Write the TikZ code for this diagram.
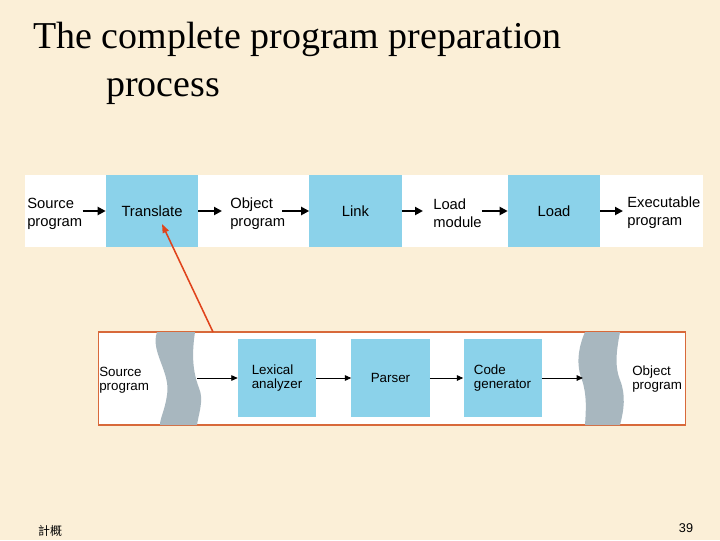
\documentclass[tikz,border=0pt]{standalone}
\usepackage{fontspec}
\setmainfont{Liberation Serif}
\setsansfont{Liberation Sans}
\newfontfamily\cjkfont{Noto Sans CJK TC}
\usepackage{xcolor}
\usepackage{tikz}
\usetikzlibrary{positioning, arrows.meta}

\definecolor{parchment}{HTML}{FBEFD7}
\definecolor{boxblue}{HTML}{8BD2EA}
\definecolor{bandgray}{HTML}{A8B7BF}
\definecolor{frameorange}{HTML}{D8693A}
\definecolor{pointred}{HTML}{E0441C}

\begin{document}
\begin{tikzpicture}[x=0.025cm, y=-0.025cm,
  stagebox/.style={fill=boxblue, draw=none, inner sep=0pt, minimum width=2.3cm, minimum height=1.8cm,
    font=\sffamily\fontsize{10.5}{12.8}\selectfont},
  phasebox/.style={fill=boxblue, draw=none, inner sep=0pt, minimum width=1.95cm, minimum height=1.95cm,
    align=left, font=\sffamily\fontsize{9.5}{10}\selectfont},
  toplabel/.style={anchor=west, inner sep=0pt, align=left, font=\sffamily\fontsize{10.5}{12.8}\selectfont},
  lowlabel/.style={anchor=west, inner sep=0pt, align=left, font=\sffamily\fontsize{9.5}{10}\selectfont},
  thickarr/.style={-{Triangle[length=0.2cm, width=0.2cm]}, line width=1.4pt},
  thinarr/.style={-{Triangle[length=0.16cm, width=0.14cm]}, line width=0.6pt},
  title/.style={anchor=base west, inner sep=0pt, font=\fontsize{27}{32}\selectfont}]

% fundo
\fill[parchment] (0,0) rectangle (720,540);

% titulo
\node[title] (title1) at (33,48) {The complete program preparation};
\node[title] (title2) at (106,96) {process};

% faixa superior
\fill[white] (25,175) rectangle (703,247);
\node[stagebox] (translate) at (152,211) {Translate};
\node[stagebox] (link) at (355.5,211) {Link};
\node[stagebox] (load) at (554,211) {Load};
\node[toplabel] (srcprog) at (27,214) {Source\\program};
\node[toplabel] (objprog) at (230,214) {Object\\program};
\node[toplabel] (loadmod) at (433,213) {Load\\module};
\node[toplabel] (exeprog) at (627,213) {Executable\\program};

\draw[thickarr] (srcprog.east |- translate) -- (translate.west);
\draw[thickarr] (translate.east) -- ([xshift=-0.2cm]objprog.west |- translate);
\draw[thickarr] ([xshift=-0.08cm]objprog.east |- link) -- (link.west);
\draw[thickarr] (link.east) -- ([xshift=-0.25cm]loadmod.west |- link);
\draw[thickarr] (loadmod.east |- load) -- (load.west);
\draw[thickarr] (load.east) -- ([xshift=-0.1cm]exeprog.west |- load);

% quadro inferior
\node[draw=frameorange, fill=white, line width=0.8pt, minimum width=14.65cm, minimum height=2.325cm,
  inner sep=0pt] (frame) at (392,378.5) {};

% faixas cinza onduladas
\fill[bandgray] (157,332) .. controls (150,352) and (171,372) .. (167,395)
  .. controls (165,410) and (160,418) .. (160,425) -- (197,425)
  .. controls (199,412) and (204,400) .. (199,388)
  .. controls (192,370) and (192,352) .. (195,332) -- cycle;
\fill[bandgray] (585,332) .. controls (578,348) and (576,365) .. (582,380)
  .. controls (587,395) and (586,410) .. (585,425) -- (620,425)
  .. controls (624,410) and (626,395) .. (620,380)
  .. controls (614,365) and (617,348) .. (620,332) -- cycle;

\node[phasebox] (lexical) at (277,378) {Lexical\\analyzer};
\node[phasebox] (parser) at (390.5,378) {Parser};
\node[phasebox] (codegen) at (502.5,378) {Code\\generator};
\node[lowlabel] (srclow) at (99,380) {Source\\program};
\node[lowlabel] (objlow) at (632,379) {Object\\program};

\coordinate (bandout) at (197,378);
\coordinate (bandin) at (583,378);
\draw[thinarr] (bandout) -- (lexical.west);
\draw[thinarr] (lexical.east) -- (parser.west);
\draw[thinarr] (parser.east) -- (codegen.west);
\draw[thinarr] (codegen.east) -- (bandin);

% seta vermelha
\coordinate (redtail) at (213,332);
\coordinate (redtip) at (162,224);
\draw[pointred, line width=1.1pt, -{Triangle[length=0.22cm, width=0.16cm]}] (redtail) -- (redtip);

% rodape
\node[inner sep=0pt, font=\cjkfont\fontsize{8.5}{10}\selectfont] (course) at (50,531) {計概};
\node[inner sep=0pt, font=\sffamily\fontsize{9}{10}\selectfont] (pagenum) at (686,528) {39};
\end{tikzpicture}
\end{document}
